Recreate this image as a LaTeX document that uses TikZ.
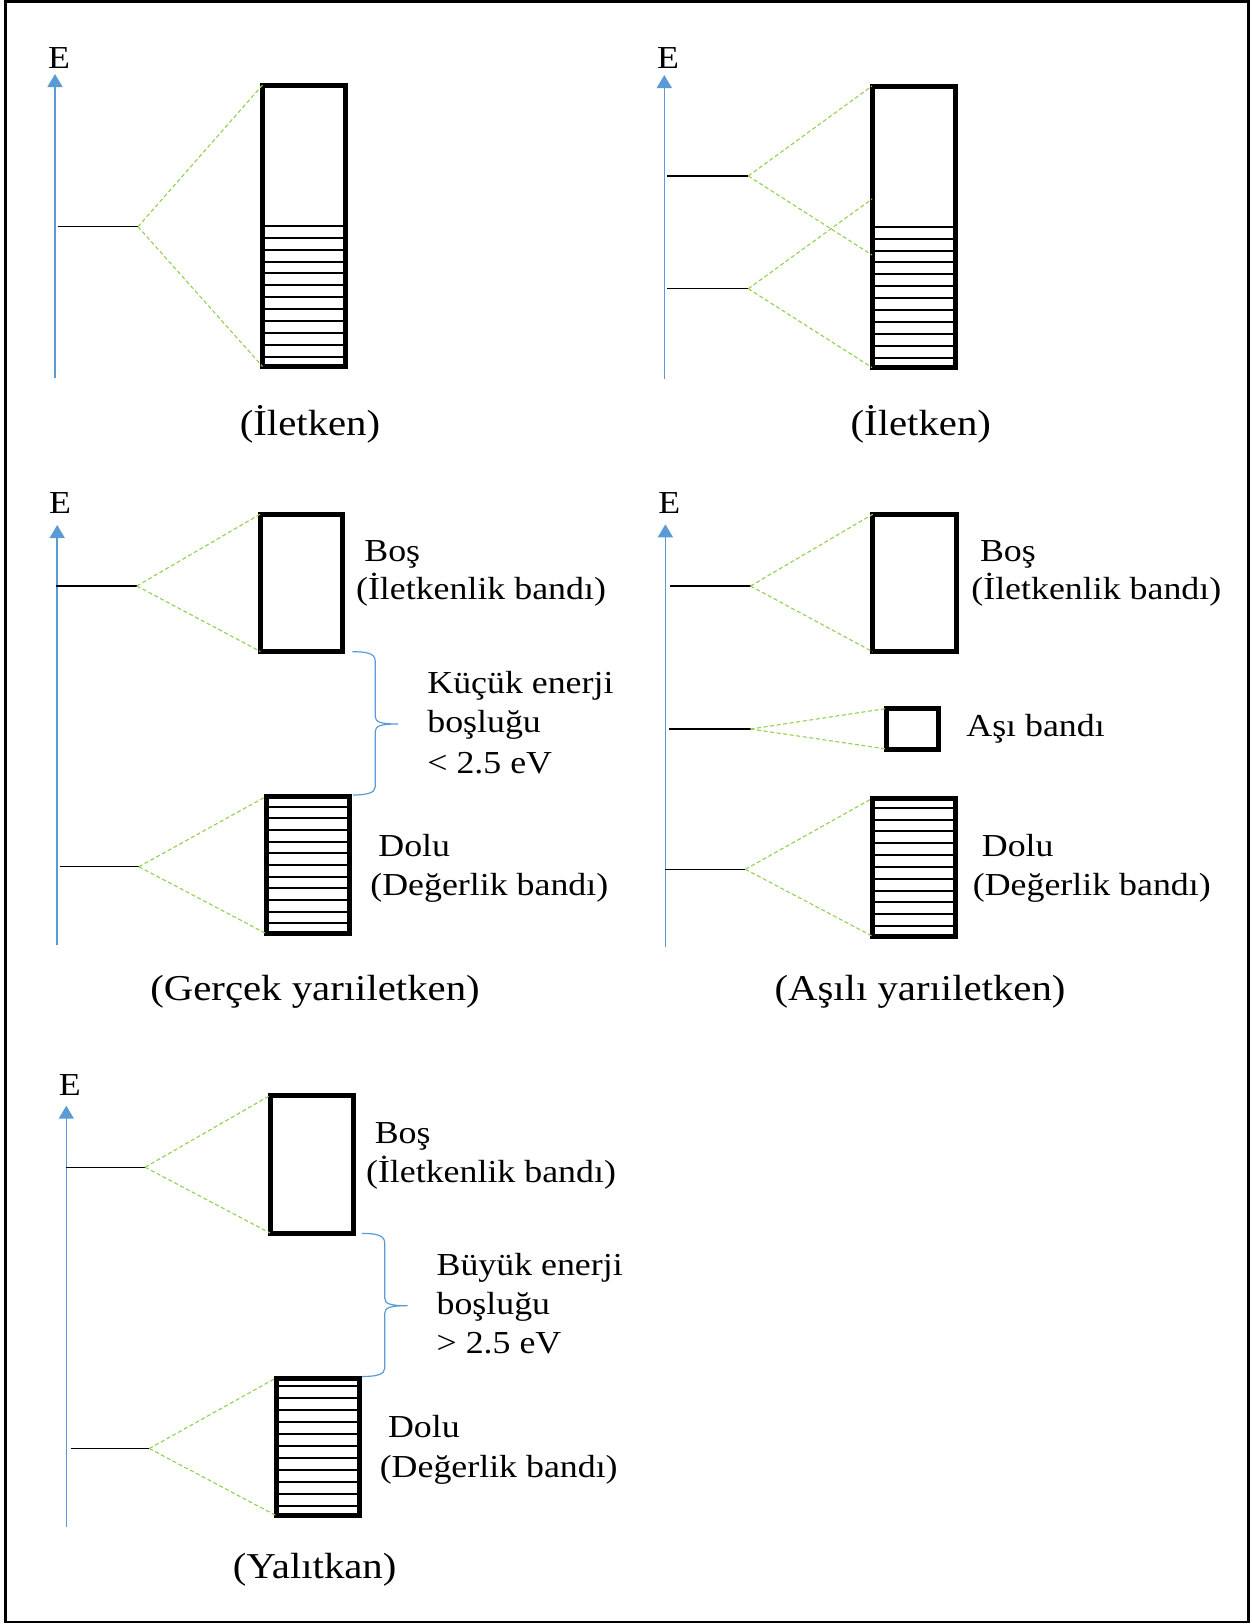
\documentclass[tikz,border=0pt]{standalone}
\usepackage{fontspec}
\setmainfont{Liberation Serif}[FakeStretch=1.12]
\usetikzlibrary{arrows.meta,fit}
\definecolor{axisblue}{RGB}{91,155,213}
\definecolor{dashgreen}{RGB}{146,208,80}
\begin{document}
\begin{tikzpicture}[x=0.5pt,y=-0.5pt,
  axis/.style={draw=axisblue, line width=0.75pt, -{Triangle[width=7.5pt,length=6.5pt]}},
  level/.style={draw=black, line width=0.55pt},
  proj/.style={draw=dashgreen, line width=0.55pt, dash pattern=on 2pt off 1.3pt},
  band/.style={draw=black, line width=2.5pt, inner sep=0pt, outer sep=0pt, rectangle},
  hatch/.style={draw=black, line width=1pt},
  gbrace/.style={draw=axisblue, line width=0.6pt},
  elabel/.style={font=\fontsize{16}{18}\selectfont, anchor=base, inner sep=0pt},
  lab/.style={font=\fontsize{16}{19}\selectfont, anchor=base west, inner sep=0pt},
  caption/.style={font=\fontsize{18.2}{21}\selectfont, anchor=base, inner sep=0pt},
]
\useasboundingbox (0,0) rectangle (1252,1624);
\draw[line width=1.2pt] (5.5,1.5) rectangle (1248.5,1622);

% ---------- Panel 1 ----------
\node[elabel] (E1) at (59,68) {E};
\coordinate (ax1b) at (55,378); \coordinate (ax1t) at (55,74);
\draw[axis] (ax1b) -- (ax1t);
\node[band, fit={(262.5,85) (345.5,366.5)}] (A) {};
\foreach \k in {0,...,11} \draw[hatch] (262.5,{225.7+\k*11.94}) -- (345.5,{225.7+\k*11.94});
\coordinate (l1a) at (57.7,226.7); \coordinate (l1b) at (138,226.7);
\draw[level] (l1a) -- (l1b);
\draw[proj] (l1b) -- (A.north west);
\draw[proj] (l1b) -- (A.south west);
\node[caption] (cap1) at (310,435) {(İletken)};

% ---------- Panel 2 ----------
\node[elabel] (E2) at (668,68) {E};
\coordinate (ax2b) at (664.3,379); \coordinate (ax2t) at (664.3,75);
\draw[axis] (ax2b) -- (ax2t);
\node[band, fit={(872,86) (955.8,367.5)}] (B) {};
\foreach \k in {0,...,11} \draw[hatch] (872,{226.7+\k*11.9}) -- (955.8,{226.7+\k*11.9});
\coordinate (l2a) at (666.7,176); \coordinate (l2b) at (748.3,176);
\coordinate (l3a) at (666.7,288.7); \coordinate (l3b) at (748.3,288.7);
\draw[level] (l2a) -- (l2b);
\draw[level] (l3a) -- (l3b);
\coordinate (Bm1) at (872,255); \coordinate (Bm2) at (872,199);
\draw[proj] (l2b) -- (B.north west);
\draw[proj] (l2b) -- (Bm1);
\draw[proj] (l3b) -- (Bm2);
\draw[proj] (l3b) -- (B.south west);
\node[caption] (cap2) at (920.8,435) {(İletken)};

% ---------- Panel 3 ----------
\node[elabel] (E3) at (60,513.3) {E};
\coordinate (ax3b) at (57.2,945); \coordinate (ax3t) at (57.2,525);
\draw[axis] (ax3b) -- (ax3t);
\node[band, fit={(260.4,514) (342.9,651.5)}] (C1) {};
\node[band, fit={(266,796.5) (349,933.5)}] (C2) {};
\foreach \k in {0,...,10} \draw[hatch] (266,{806.7+\k*11.66}) -- (349,{806.7+\k*11.66});
\coordinate (l4a) at (56,586); \coordinate (l4b) at (136.8,586);
\coordinate (l5a) at (60,866.7); \coordinate (l5b) at (138.9,866.7);
\draw[level] (l4a) -- (l4b);
\draw[level] (l5a) -- (l5b);
\draw[proj] (l4b) -- (C1.north west);
\draw[proj] (l4b) -- (C1.south west);
\draw[proj] (l5b) -- (C2.north west);
\draw[proj] (l5b) -- (C2.south west);
\node[lab] (C1t1) at (364,561.7) {Boş};
\node[lab] (C1t2) at (355.7,599.3) {(İletkenlik bandı)};
\node[lab] (C2t1) at (378,856) {Dolu};
\node[lab] (C2t2) at (370,895) {(Değerlik bandı)};
\coordinate (br1t) at (352.4,651.7); \coordinate (br1m) at (398,724); \coordinate (br1b) at (353,795);
\draw[gbrace] (br1t) .. controls (366,651.7) and (375.2,653) .. (375.2,661) -- (375.2,716)
  .. controls (375.2,722) and (380,724) .. (br1m)
  .. controls (380,724) and (375.2,726) .. (375.2,732) -- (375.2,787)
  .. controls (375.2,793) and (366,795) .. (br1b);
\node[lab] (g1a) at (427,693.3) {Küçük enerji};
\node[lab] (g1b) at (427,732.3) {boşluğu};
\node[lab] (g1c) at (427,773.3) {< 2.5 eV};
\node[caption] (cap3) at (315,1000) {(Gerçek yarıiletken)};

% ---------- Panel 4 ----------
\node[elabel] (E4) at (669.3,513.3) {E};
\coordinate (ax4b) at (665.4,946.7); \coordinate (ax4t) at (665.4,524.3);
\draw[axis] (ax4b) -- (ax4t);
\node[band, fit={(872.8,514.2) (956.8,651.8)}] (D1) {};
\node[band, fit={(886.5,708.5) (938,749)}] (D2) {};
\node[band, fit={(872,798.5) (955.5,936)}] (D3) {};
\foreach \k in {0,...,10} \draw[hatch] (872,{807.7+\k*11.83}) -- (955.5,{807.7+\k*11.83});
\coordinate (l6a) at (670.4,586); \coordinate (l6b) at (750.5,586);
\coordinate (l7a) at (669.3,729); \coordinate (l7b) at (750.5,729);
\coordinate (l8a) at (665.4,869.3); \coordinate (l8b) at (745.4,869.3);
\draw[level] (l6a) -- (l6b);
\draw[level] (l7a) -- (l7b);
\draw[level] (l8a) -- (l8b);
\draw[proj] (l6b) -- (D1.north west);
\draw[proj] (l6b) -- (D1.south west);
\draw[proj] (l7b) -- (D2.north west);
\draw[proj] (l7b) -- (D2.south west);
\draw[proj] (l8b) -- (D3.north west);
\draw[proj] (l8b) -- (D3.south west);
\node[lab] (D1t1) at (979.6,561.7) {Boş};
\node[lab] (D1t2) at (971,599.3) {(İletkenlik bandı)};
\node[lab] (D2t) at (966,736.7) {Aşı bandı};
\node[lab] (D3t1) at (981.5,856) {Dolu};
\node[lab] (D3t2) at (972.5,895) {(Değerlik bandı)};
\node[caption] (cap4) at (920,1000) {(Aşılı yarıiletken)};

% ---------- Panel 5 ----------
\node[elabel] (E5) at (69.7,1095) {E};
\coordinate (ax5b) at (66.3,1527); \coordinate (ax5t) at (66.3,1105.7);
\draw[axis] (ax5b) -- (ax5t);
\node[band, fit={(270,1095.5) (353,1233)}] (F1) {};
\node[band, fit={(276,1378) (359.5,1515.5)}] (F2) {};
\foreach \k in {0,...,10} \draw[hatch] (276,{1385.5+\k*12.05}) -- (359.5,{1385.5+\k*12.05});
\coordinate (l9a) at (66.3,1167.2); \coordinate (l9b) at (145.1,1167.2);
\coordinate (l10a) at (70.5,1448.5); \coordinate (l10b) at (149.3,1448.5);
\draw[level] (l9a) -- (l9b);
\draw[level] (l10a) -- (l10b);
\draw[proj] (l9b) -- (F1.north west);
\draw[proj] (l9b) -- (F1.south west);
\draw[proj] (l10b) -- (F2.north west);
\draw[proj] (l10b) -- (F2.south west);
\node[lab] (F1t1) at (374.4,1143.5) {Boş};
\node[lab] (F1t2) at (365.7,1182.3) {(İletkenlik bandı)};
\node[lab] (F2t1) at (387.6,1437.7) {Dolu};
\node[lab] (F2t2) at (379.4,1477.3) {(Değerlik bandı)};
\coordinate (br2t) at (362,1233.4); \coordinate (br2m) at (407.5,1305.7); \coordinate (br2b) at (362,1376.5);
\draw[gbrace] (br2t) .. controls (376,1233.4) and (384.7,1235) .. (384.7,1243) -- (384.7,1297.7)
  .. controls (384.7,1303.7) and (389.5,1305.7) .. (br2m)
  .. controls (389.5,1305.7) and (384.7,1307.7) .. (384.7,1313.7) -- (384.7,1368.5)
  .. controls (384.7,1374.5) and (376,1376.5) .. (br2b);
\node[lab] (g2a) at (436.2,1275.8) {Büyük enerji};
\node[lab] (g2b) at (436.2,1314.7) {boşluğu};
\node[lab] (g2c) at (436.2,1353.2) {> 2.5 eV};
\node[caption] (cap5) at (314.7,1578) {(Yalıtkan)};
\end{tikzpicture}
\end{document}
